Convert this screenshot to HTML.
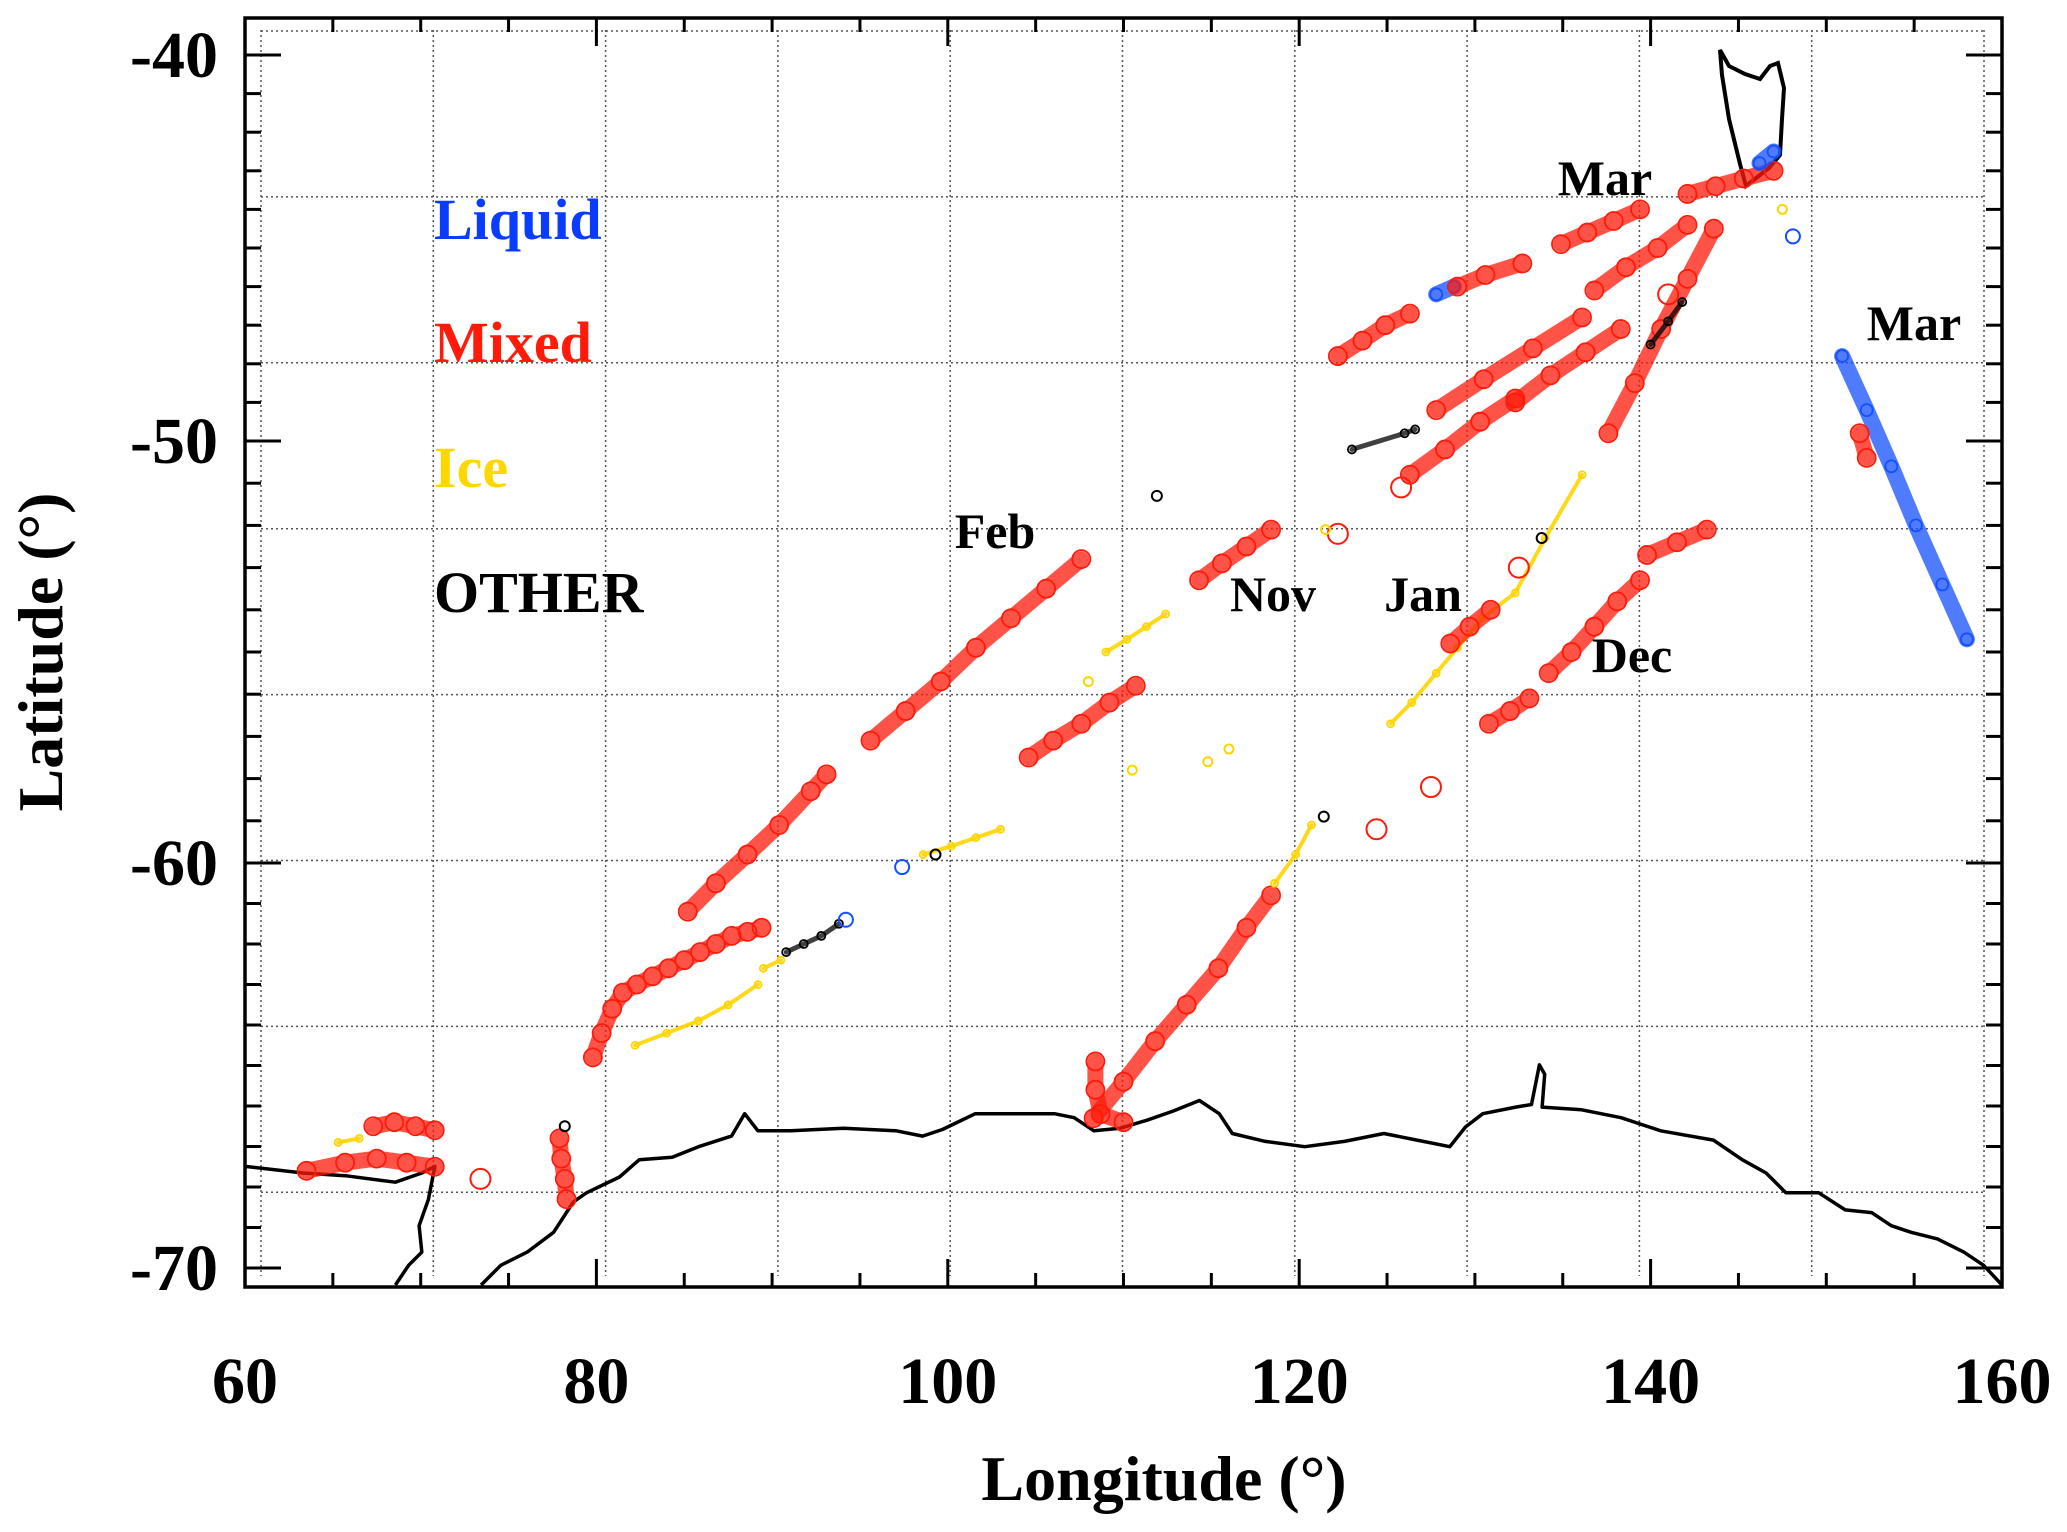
<!DOCTYPE html>
<html><head><meta charset="utf-8"><style>
html,body{margin:0;padding:0;background:#fff;}
svg{display:block;font-family:"Liberation Serif",serif;font-weight:bold;}
</style></head><body>
<svg id="chart" width="2067" height="1532" viewBox="0 0 2067 1532" xmlns="http://www.w3.org/2000/svg">
<g id="grid"></g>
<g id="coast"></g>
<g id="marks"></g>
<g id="axes"></g>
<text x="434" y="239" font-size="58" fill="#0a3cff">Liquid</text>
<text x="434" y="362" font-size="58" fill="#ff1a0a">Mixed</text>
<text x="434" y="487" font-size="58" fill="#ffd700">Ice</text>
<text x="434" y="612" font-size="58" fill="#000">OTHER</text>
<text x="1605" y="195" font-size="50" text-anchor="middle">Mar</text>
<text x="1914" y="340" font-size="50" text-anchor="middle">Mar</text>
<text x="995" y="548" font-size="50" text-anchor="middle">Feb</text>
<text x="1273" y="611" font-size="50" text-anchor="middle">Nov</text>
<text x="1423" y="611" font-size="50" text-anchor="middle">Jan</text>
<text x="1632" y="672" font-size="50" text-anchor="middle">Dec</text>
<text x="1164" y="1500" font-size="64" text-anchor="middle">Longitude (°)</text>
<text transform="translate(62,652) rotate(-90)" font-size="64" text-anchor="middle">Latitude (°)</text>
</svg>
<script>
// axis data
const xTicks = [60, 80, 100, 120, 140, 160];
const yTicks = [-40, -50, -60, -70];
const latAnchors = [-40, -50, -60, -70];
const latPix = [55, 441, 863, 1268];

// track data: type (b liquid, r mixed, y ice, k other), lons, lats
const trackTypes = ['r','r','r','k','y','y','y','y','r','r','r','r','y','y','r','r','r','r','r','b','r','r','r','r','r','r','r','b','r','b','r','r','r','y','r','k','k'];
const trackLons = [
 [85.2,86.8,88.6,90.4,92.2,93.1],
 [95.6,97.6,99.6,101.6,103.6,105.6,107.6],
 [79.8,80.3,80.9,81.5,82.3,83.2,84.1,85.0,85.9,86.8,87.7,88.6,89.4],
 [90.8,91.8,92.8,93.8],
 [82.2,84.0,85.8,87.5,89.2],
 [89.5,90.5],
 [98.6,100.2,101.6,103.0],
 [109.0,110.2,111.3,112.4],
 [104.6,106.0,107.6,109.2,110.7],
 [114.3,115.6,117.0,118.4],
 [108.3,110.0,111.8,113.6,115.4,117.0,118.4],
 [108.4,108.4,108.7,110.0],
 [118.6,119.8,120.7],
 [125.2,126.4,127.8,129.0,130.4,132.3,134.0,136.1],
 [128.6,129.7,130.9],
 [134.2,135.5,136.8,138.1,139.4],
 [130.8,132.0,133.1],
 [139.8,141.5,143.2],
 [122.2,123.6,124.9,126.3],
 [127.8,128.8],
 [129.0,130.6,132.7],
 [134.9,136.4,137.9,139.4],
 [142.1,143.7,145.3,147.0],
 [126.3,128.3,130.3,132.3],
 [127.8,130.5,133.3,136.1],
 [132.3,134.3,136.3,138.3],
 [137.6,139.1,140.6,142.1,143.6],
 [146.2,147.0],
 [136.8,138.6,140.4,142.1],
 [150.9,152.3,153.7,155.1,156.6,158.0],
 [151.9,152.3],
 [63.5,65.7,67.5,69.2,70.8],
 [67.3,68.5,69.7,70.8],
 [65.3,66.5],
 [77.9,78.0,78.2,78.3],
 [123.0,126.0,126.6],
 [140.0,141.0,141.8]
];
const trackLats = [
 [-61.2,-60.5,-59.8,-59.1,-58.3,-57.9],
 [-57.1,-56.4,-55.7,-54.9,-54.2,-53.5,-52.8],
 [-64.8,-64.2,-63.6,-63.2,-63.0,-62.8,-62.6,-62.4,-62.2,-62.0,-61.8,-61.7,-61.6],
 [-62.2,-62.0,-61.8,-61.5],
 [-64.5,-64.2,-63.9,-63.5,-63.0],
 [-62.6,-62.4],
 [-59.8,-59.6,-59.4,-59.2],
 [-55.0,-54.7,-54.4,-54.1],
 [-57.5,-57.1,-56.7,-56.2,-55.8],
 [-53.3,-52.9,-52.5,-52.1],
 [-66.3,-65.4,-64.4,-63.5,-62.6,-61.6,-60.8],
 [-64.9,-65.6,-66.2,-66.4],
 [-60.5,-59.8,-59.1],
 [-56.7,-56.2,-55.5,-54.9,-54.2,-53.6,-52.3,-50.8],
 [-54.8,-54.4,-54.0],
 [-55.5,-55.0,-54.4,-53.8,-53.3],
 [-56.7,-56.4,-56.1],
 [-52.7,-52.4,-52.1],
 [-47.8,-47.4,-47.0,-46.7],
 [-46.2,-46.0],
 [-46.0,-45.7,-45.4],
 [-44.9,-44.6,-44.3,-44.0],
 [-43.6,-43.4,-43.2,-43.0],
 [-50.8,-50.2,-49.5,-48.9],
 [-49.2,-48.4,-47.6,-46.8],
 [-49.0,-48.3,-47.7,-47.1],
 [-49.8,-48.5,-47.1,-45.8,-44.5],
 [-42.8,-42.5],
 [-46.1,-45.5,-45.0,-44.4],
 [-47.8,-49.2,-50.6,-52.0,-53.4,-54.7],
 [-49.8,-50.4],
 [-67.6,-67.4,-67.3,-67.4,-67.5],
 [-66.5,-66.4,-66.5,-66.6],
 [-66.9,-66.8],
 [-66.8,-67.3,-67.8,-68.3],
 [-50.2,-49.8,-49.7],
 [-47.5,-46.9,-46.4]
];
// isolated single observations
const singleTypes = ['k','b','b','k','r','y','y','r','k','r','r','k','b','y','r','k','r','y','y','r','y'];
const singleLons = [111.9,94.2,97.4,99.3,122.2,121.5,110.5,124.4,121.4,132.5,141.0,133.8,148.1,147.5,73.4,78.2,125.8,114.8,116.0,127.5,108.0];
const singleLats = [-51.3,-61.4,-60.1,-59.8,-52.2,-52.1,-57.8,-59.2,-58.9,-53.0,-46.2,-52.3,-44.7,-44.0,-67.8,-66.5,-51.1,-57.6,-57.3,-58.2,-55.7];

const colors = {b:'#1450ff', r:'#ff1a0a', y:'#ffd500', k:'#000'};
const radii = {b:6, r:9, y:3.5, k:4};
const bandW = {b:16, r:16, y:4, k:5};
const names = {b:'liquid', r:'mixed', y:'ice', k:'other'};

const X0 = 245, X1 = 2002, Y0 = 18, Y1 = 1287;
function xs(lon){ return X0 + (lon - 60) * (X1 - X0) / 100; }
function ys(lat){
  for (let i = 0; i < latAnchors.length - 1; i++) {
    if (lat <= latAnchors[i] && lat >= latAnchors[i+1] || i === latAnchors.length - 2) {
      const t = (lat - latAnchors[i]) / (latAnchors[i+1] - latAnchors[i]);
      return latPix[i] + t * (latPix[i+1] - latPix[i]);
    }
  }
}
const NS = 'http://www.w3.org/2000/svg';
function mk(tag, attrs, parent){
  const e = document.createElementNS(NS, tag);
  for (const k in attrs) e.setAttribute(k, attrs[k]);
  parent.appendChild(e); return e;
}
const grid = document.getElementById('grid');
const axes = document.getElementById('axes');
const marks = document.getElementById('marks');
const coast = document.getElementById('coast');

for (let i = 0; i <= 10; i++) {
  const gx = 261 + i * 172.3;
  const l = mk('line', {x1:gx, y1:30, x2:gx, y2:1276, stroke:'#555', 'stroke-width':1.5, 'stroke-dasharray':'2 3'}, grid);
  
  
}
for (let j = 0; j < 8; j++) {
  const gy = 31 + j * 165.9;
  const l = mk('line', {x1:261, y1:gy, x2:1984, y2:gy, stroke:'#555', 'stroke-width':1.5, 'stroke-dasharray':'2 3'}, grid);
  
  
}

const coastPts = [[186,885],[230,890],[262,892],[300,897],[320,890],[330,885],[325,910],[318,930],[320,950],[310,960],[300,975]];
const coast2 = [[365,975],[380,960],[400,950],[420,935],[435,912],[445,905],[470,893],[485,880],[510,878],[530,870],[555,862],[565,845],[575,858],[600,858],[640,856],[680,858],[700,862],[715,857],[740,845],[770,845],[800,845],[815,848],[830,858],[850,856],[870,850],[890,843],[910,835],[925,845],[935,860],[960,866],[990,870],[1020,866],[1050,860],[1075,865],[1100,870],[1112,855],[1125,845],[1150,840],[1162,838],[1168,808],[1172,815],[1170,840],[1200,842],[1230,848],[1260,858],[1300,865],[1322,880],[1340,890],[1355,905],[1380,905],[1400,918],[1420,920],[1435,930],[1450,935],[1470,940],[1490,950],[1505,960],[1519,975]];
const tas = [[1720,50],[1729,66],[1745,74],[1760,79],[1770,66],[1778,63],[1784,88],[1782,119],[1780,155],[1769,168],[1746,186],[1740,164],[1729,119],[1722,75]];
function sc(pts){ return pts.map(p => (p[0]*1.318).toFixed(1)+','+(p[1]*1.318).toFixed(1)).join(' '); }
[[coastPts,'coastline-amery'],[coast2,'coastline-antarctica']].forEach(c => {
  const p = mk('polyline', {points:sc(c[0]), fill:'none', stroke:'#000', 'stroke-width':3.5, 'stroke-linejoin':'round'}, coast);
  
  
});
const tp = mk('polygon', {points:tas.map(p => p[0]+','+p[1]).join(' '), fill:'none', stroke:'#000', 'stroke-width':4}, coast);



trackTypes.forEach((t, i) => {
  const lons = trackLons[i], lats = trackLats[i];
  const pts = lons.map((lo, k) => xs(lo).toFixed(1) + ',' + ys(lats[k]).toFixed(1)).join(' ');
  const band = mk('polyline', {points:pts, fill:'none', stroke:colors[t], 'stroke-width':bandW[t], 'stroke-linecap':'round', opacity:t==='y'?0.9:0.75}, marks);
  
  
  lons.forEach((lo, k) => {
    const c = mk('circle', {cx:xs(lo), cy:ys(lats[k]), r:radii[t], fill:'none', stroke:colors[t], 'stroke-width':1.8}, marks);
    
    
  });
});
singleTypes.forEach((t, i) => {
  const c = mk('circle', {cx:xs(singleLons[i]), cy:ys(singleLats[i]), r:radii[t]+1, fill:'none', stroke:colors[t], 'stroke-width':2}, marks);
  
  
});

const fr = mk('rect', {x:X0, y:Y0, width:X1-X0, height:Y1-Y0, fill:'none', stroke:'#000', 'stroke-width':3.5}, axes);


for (let lon = 60; lon <= 160; lon += 5) {
  const major = (lon % 20 === 0);
  const len = major ? 28 : 14;
  const x = xs(lon);
  const a = mk('line', {x1:x, y1:Y1, x2:x, y2:Y1-len, stroke:'#000', 'stroke-width':3}, axes);
  
  
  const b = mk('line', {x1:x, y1:Y0, x2:x, y2:Y0+len, stroke:'#000', 'stroke-width':3}, axes);
  
  
}
xTicks.forEach(v => {
  const t = mk('text', {x:xs(v), y:1403, 'font-size':66, 'text-anchor':'middle'}, axes);
  t.textContent = v;
  
  
});
for (let lat = -40; lat >= -70; lat--) {
  const major = (lat % 10 === 0);
  const len = major ? 36 : 16;
  const y = ys(lat);
  const a = mk('line', {x1:X0, y1:y, x2:X0+len, y2:y, stroke:'#000', 'stroke-width':3}, axes);
  
  
  const b = mk('line', {x1:X1, y1:y, x2:X1-len, y2:y, stroke:'#000', 'stroke-width':3}, axes);
  
  
}
yTicks.forEach(v => {
  const t = mk('text', {x:218, y:ys(v)+22, 'font-size':66, 'text-anchor':'end'}, axes);
  t.textContent = v;
  
  
});
</script>
</body></html>
